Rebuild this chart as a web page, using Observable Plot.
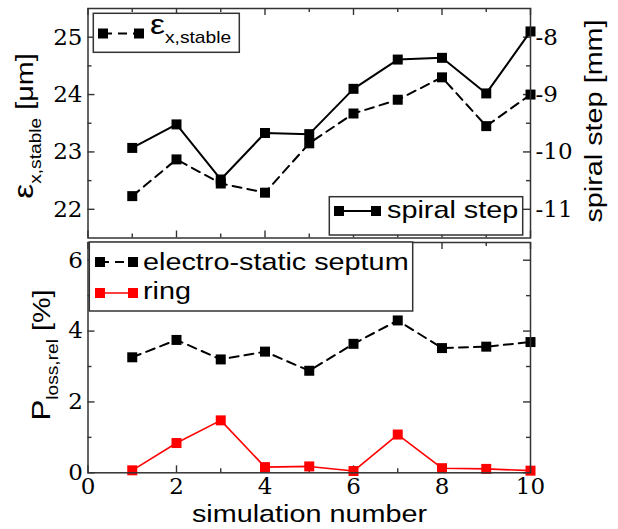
<!DOCTYPE html>
<html>
<head>
<meta charset="utf-8">
<script src="https://cdn.jsdelivr.net/npm/d3@7"></script>
<script src="https://cdn.jsdelivr.net/npm/@observablehq/plot@0.6"></script>
<style>
  body { margin: 0; background: #fff; }
  #wrap { position: relative; width: 618px; height: 529px; overflow: hidden; }
  #wrap svg { position: absolute; left: 0; }
</style>
</head>
<body>
<div id="wrap"></div>
<script>
// ---------------- data ----------------
const simulation = [1, 2, 3, 4, 5, 6, 7, 8, 9, 10];
const epsStable  = [22.23, 22.87, 22.45, 22.29, 23.15, 23.67, 23.91, 24.30, 23.45, 24.00]; // µm
const spiralStep = [-9.93, -9.52, -10.48, -9.67, -9.69, -8.90, -8.39, -8.36, -8.98, -7.90]; // mm
const septumLoss = [3.26, 3.75, 3.20, 3.42, 2.88, 3.64, 4.30, 3.52, 3.56, 3.69]; // %
const ringLoss   = [0.07, 0.84, 1.48, 0.16, 0.18, 0.05, 1.08, 0.13, 0.11, 0.06]; // %

const epsTicks    = [22, 23, 24, 25];
const epsMinor    = [22.5, 23.5, 24.5];
const spiralTicks = [-11, -10, -9, -8];
const lossTicks   = [0, 2, 4, 6];
const lossMinor   = [1, 3, 5];
const xTicks      = [0, 2, 4, 6, 8, 10];
const xMinor      = [1, 3, 5, 7, 9];
const SPIRAL_OFFSET = 33; // right axis: spiral step = eps axis value - 33

const seriesLabels = {
  eps: "ε", epsSub: "x,stable",
  spiral: "spiral step",
  septum: "electro-static septum",
  ring: "ring"
};

// ---------------- tables ----------------
const topRows = simulation.map((s, i) => ({sim: s, eps: epsStable[i], spiral: spiralStep[i]}));
const botRows = simulation.map((s, i) => ({sim: s, septum: septumLoss[i], ring: ringLoss[i]}));

// ---------------- layout ----------------
const WIDTH = 618;
const ML = 87.5, MR = 88;
const PW = WIDTH - ML - MR;
const TOP_H = 240, TOP_MT = 8, TOP_MB = 2.5;
const TOP_PH = TOP_H - TOP_MT - TOP_MB;
const BOT_H = 289, BOT_MT = 2, BOT_MB = 56.7;
const BOT_PH = BOT_H - BOT_MT - BOT_MB;
const INK = "#333";
const tickStyle = {stroke: INK, strokeWidth: 1.4};
const MAJ = 7, MIN = 4;
const SQ_R = 5.64; // square side ~10px
const SERIF = "DejaVu Serif";

function frameTicks(yMaj, yMin, ph) {
  return [
    Plot.ruleY(yMaj, {insetRight: PW - MAJ, ...tickStyle}),
    Plot.ruleY(yMaj, {insetLeft: PW - MAJ, ...tickStyle}),
    Plot.ruleY(yMin, {insetRight: PW - MIN, ...tickStyle}),
    Plot.ruleY(yMin, {insetLeft: PW - MIN, ...tickStyle}),
    Plot.ruleX(xTicks, {insetTop: ph - MAJ, ...tickStyle}),
    Plot.ruleX(xTicks, {insetBottom: ph - MAJ, ...tickStyle}),
    Plot.ruleX(xMinor, {insetTop: ph - MIN, ...tickStyle}),
    Plot.ruleX(xMinor, {insetBottom: ph - MIN, ...tickStyle})
  ];
}

const baseStyle = {background: "transparent", color: "#000", overflow: "visible", fontFamily: SERIF, fontSize: "23px"};
const lbl = {fontFamily: SERIF, fontSize: 23};

const topPlot = Plot.plot({
  width: WIDTH, height: TOP_H,
  marginLeft: ML, marginRight: MR, marginTop: TOP_MT, marginBottom: TOP_MB,
  style: baseStyle,
  x: {domain: [0, 10], axis: null},
  y: {domain: [21.5, 25.5]},
  marks: [
    ...frameTicks(epsTicks, epsMinor, TOP_PH),
    Plot.axisY({ticks: epsTicks, anchor: "left", tickSize: 0, tickPadding: 5.5, label: null, tickFormat: d => String(d), ...lbl}),
    Plot.axisY({ticks: spiralTicks.map(v => v + SPIRAL_OFFSET), anchor: "right", tickSize: 0, tickPadding: 5, label: null, tickFormat: d => String(Math.round(d - SPIRAL_OFFSET)), ...lbl}),
    Plot.line(topRows, {x: "sim", y: "eps", stroke: "#000", strokeWidth: 2, strokeDasharray: "9,6"}),
    Plot.line(topRows, {x: "sim", y: d => d.spiral + SPIRAL_OFFSET, stroke: "#000", strokeWidth: 2}),
    Plot.dot(topRows, {x: "sim", y: "eps", symbol: "square", r: SQ_R, fill: "#000"}),
    Plot.dot(topRows, {x: "sim", y: d => d.spiral + SPIRAL_OFFSET, symbol: "square", r: SQ_R, fill: "#000"}),
    Plot.frame({stroke: INK, strokeWidth: 1.5})
  ]
});

const botPlot = Plot.plot({
  width: WIDTH, height: BOT_H,
  marginLeft: ML, marginRight: MR, marginTop: BOT_MT, marginBottom: BOT_MB,
  style: baseStyle,
  x: {domain: [0, 10]},
  y: {domain: [0, 6.5]},
  marks: [
    ...frameTicks(lossTicks, lossMinor, BOT_PH),
    Plot.axisY({ticks: lossTicks, anchor: "left", tickSize: 0, tickPadding: 5, label: null, tickFormat: d => String(d), ...lbl}),
    Plot.axisX({ticks: xTicks, anchor: "bottom", tickSize: 0, tickPadding: 5, label: null, tickFormat: d => String(d), ...lbl}),
    Plot.line(botRows, {x: "sim", y: "septum", stroke: "#000", strokeWidth: 2, strokeDasharray: "9,6"}),
    Plot.line(botRows, {x: "sim", y: "ring", stroke: "#ff0000", strokeWidth: 1.6}),
    Plot.dot(botRows, {x: "sim", y: "septum", symbol: "square", r: SQ_R, fill: "#000"}),
    Plot.dot(botRows, {x: "sim", y: "ring", symbol: "square", r: SQ_R, fill: "#ff0000"}),
    Plot.frame({stroke: INK, strokeWidth: 1.5})
  ]
});

const wrap = document.getElementById("wrap");
topPlot.style.top = "0px";
botPlot.style.top = TOP_H + "px";
wrap.appendChild(topPlot);
wrap.appendChild(botPlot);

// ---------------- overlay: titles & legends ----------------
const SANS = "Liberation Sans";
const SX = 1.2;
const ov = d3.create("svg").attr("width", WIDTH).attr("height", 529)
  .style("top", "0px").style("pointer-events", "none")
  .attr("font-family", SANS).attr("font-size", 24).attr("fill", "#000");

function label(x, y, rot, anchor) {
  return ov.append("text")
    .attr("transform", `translate(${x},${y})${rot ? ` rotate(${rot})` : ""} scale(${SX},1)`)
    .attr("text-anchor", anchor);
}

// axis titles
const tl = label(33, 126, -90, "middle");
tl.append("tspan").attr("font-size", 28).text("ε");
tl.append("tspan").attr("font-size", 16).attr("dy", 8).text("x,stable");
tl.append("tspan").attr("dy", -8).text(" [μm]");

const tr = label(602, 121, -90, "middle");
tr.append("tspan").text("spiral step [mm]");

const bl = label(50, 355, -90, "middle");
bl.append("tspan").attr("font-size", 26).text("P");
bl.append("tspan").attr("font-size", 16).attr("dy", 8).text("loss,rel");
bl.append("tspan").attr("dy", -8).text(" [%]");

label(309.5, 522, 0, "middle").text("simulation number");

// legends
function box(x0, y0, x1, y1) {
  ov.append("rect").attr("x", x0).attr("y", y0).attr("width", x1 - x0).attr("height", y1 - y0)
    .attr("fill", "#fff").attr("stroke", INK).attr("stroke-width", 1.5);
}
function sample(xa, xb, y, color, dash, sw) {
  ov.append("line").attr("x1", xa).attr("x2", xb).attr("y1", y).attr("y2", y)
    .attr("stroke", color).attr("stroke-width", sw).attr("stroke-dasharray", dash);
  [xa, xb].forEach(x => ov.append("rect").attr("x", x - 5).attr("y", y - 5).attr("width", 10).attr("height", 10).attr("fill", color));
}

box(93.3, 13.3, 239.3, 52.3);
sample(103, 139, 33.5, "#000", "9,6", 2);
const le = label(150, 33.5, 0, "start");
le.append("tspan").attr("font-size", 28).text(seriesLabels.eps);
le.append("tspan").attr("font-size", 16).attr("dy", 9).text(seriesLabels.epsSub);

box(329.3, 196.7, 522.7, 235);
sample(339, 376, 211, "#000", null, 2);
label(387, 218, 0, "start").text(seriesLabels.spiral);

box(89.3, 242, 412.7, 311);
sample(100, 133, 262, "#000", "9,6", 2);
label(143, 270, 0, "start").text(seriesLabels.septum);
sample(100, 133, 293, "#ff0000", null, 1.6);
label(143, 299, 0, "start").text(seriesLabels.ring);

wrap.appendChild(ov.node());
</script>
</body>
</html>
